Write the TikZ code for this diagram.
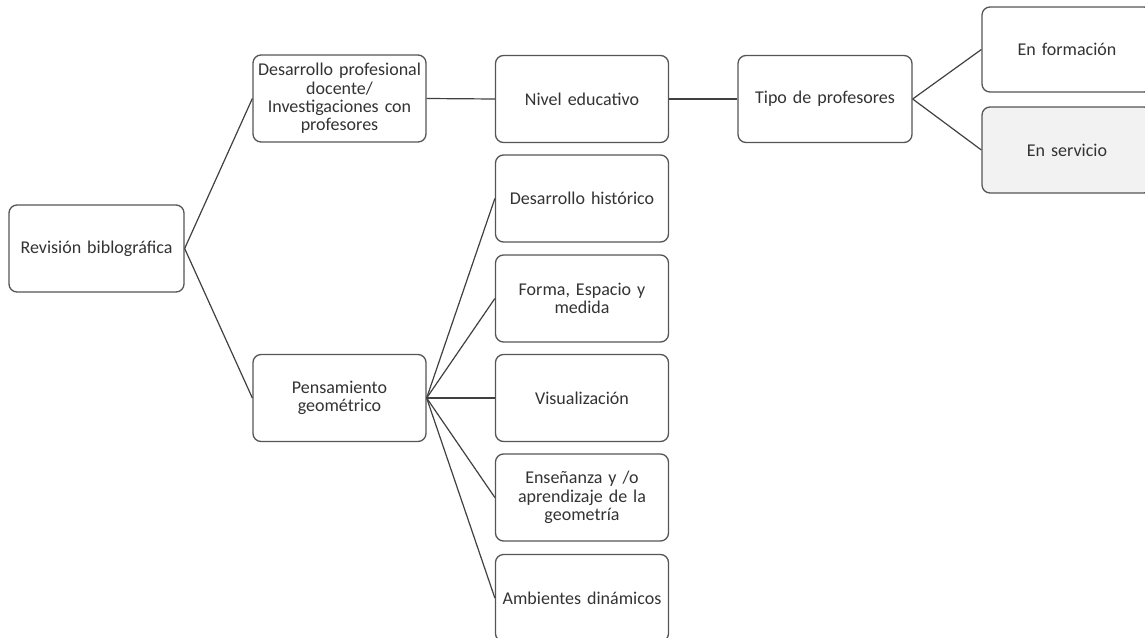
\documentclass[tikz,border=0pt]{standalone}
\usepackage{fontspec}
\setmainfont{Carlito}
\definecolor{boxline}{HTML}{555555}
\definecolor{txt}{HTML}{333333}
\definecolor{conn}{HTML}{404040}
\definecolor{lightfill}{HTML}{F2F2F2}
\begin{document}
\hyphenpenalty=10000
\exhyphenpenalty=10000
\begin{tikzpicture}[x=1pt,y=-1pt,
  topic/.style={draw=boxline, line width=1.3pt, rounded corners=8pt, fill=white,
    minimum width=173pt, minimum height=87pt, inner sep=0pt, text width=168pt,
    align=center, text=txt, font=\fontsize{18}{18.4}\selectfont},
  link/.style={draw=conn, line width=1.2pt}]
\useasboundingbox (0,0) rectangle (1145,637);
\clip (0,0) rectangle (1145,637);
\node[topic, minimum width=175pt] (rev) at (96.5,248.5) {Revisión biblográfica};
\node[topic] (dpd) at (339.5,98.5) {Desarrollo profesional\\docente/\\Investigaciones con\\profesores};
\node[topic] (niv) at (582,99) {Nivel educativo};
\node[topic, minimum width=174pt] (tipo) at (825,99) {Tipo de profesores};
\node[topic, minimum width=170pt, minimum height=85pt] (enf) at (1067,49.5) {En formación};
\node[topic, minimum width=170pt, minimum height=86pt, fill=lightfill] (ens) at (1067,150) {En servicio};
\node[topic] (pen) at (339.5,398) {Pensamiento\\geométrico};
\node[topic] (dh) at (582,198.5) {Desarrollo histórico};
\node[topic] (fe) at (582,298.5) {Forma, Espacio y\\medida};
\node[topic] (vis) at (582,398) {Visualización};
\node[topic] (ena) at (582,497.5) {Enseñanza y /o\\aprendizaje de la\\geometría};
\node[topic] (amb) at (582,598) {Ambientes dinámicos};
\draw[link] (rev.east) -- (dpd.west);
\draw[link] (rev.east) -- (pen.west);
\draw[link] (dpd.east) -- (niv.west);
\draw[link] (niv.east) -- (tipo.west);
\draw[link] (tipo.east) -- (enf.west);
\draw[link] (tipo.east) -- (ens.west);
\foreach \c in {dh,fe,vis,ena,amb} \draw[link] (pen.east) -- (\c.west);
\end{tikzpicture}
\end{document}
